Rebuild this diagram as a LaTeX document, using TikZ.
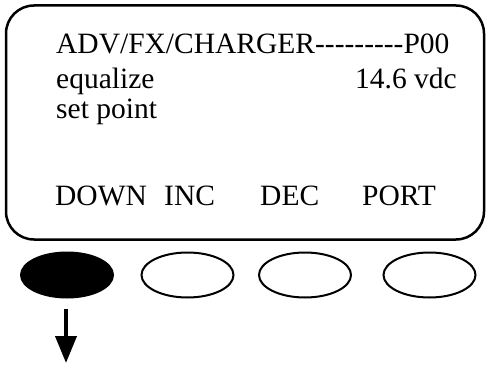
\documentclass[tikz,border=0pt]{standalone}
\usepackage{fontspec}
\setmainfont{Liberation Serif}
\usetikzlibrary{shapes.geometric,arrows.meta}
\begin{document}
\begin{tikzpicture}[x=1pt,y=-1pt,
  lcd/.style={draw, line width=2.5pt, rounded corners=28pt, minimum width=478pt, minimum height=234pt, inner sep=0pt},
  txt/.style={anchor=base west, inner sep=0pt, font=\fontsize{29.5}{32}\selectfont},
  txtr/.style={anchor=base east, inner sep=0pt, font=\fontsize{29.5}{32}\selectfont},
  btn/.style={ellipse, draw, line width=2pt, minimum width=92pt, minimum height=45pt, inner sep=0pt},
  btnon/.style={btn, fill=black},
  downarrow/.style={line width=4pt, -{Triangle[width=21pt,length=27pt]}}]
\useasboundingbox (0,0) rectangle (488,369);
\node[lcd] (lcd) at (245,122.5) {};
\node[txt] (l1) at (56,54) {ADV/FX/CHARGER-{}-{}-{}-{}-{}-{}-{}-{}-P00};
\node[txt] (l2) at (56,89) {equalize};
\node[txtr] (v2) at (457,89) {14.6 vdc};
\node[txt] (l3) at (56,118) {set point};
\node[txt] (k1) at (55,205) {DOWN};
\node[txt] (k2) at (164,205) {INC};
\node[txt] (k3) at (260,205) {DEC};
\node[txt] (k4) at (362,205) {PORT};
\node[btnon] (b1) at (67,275) {};
\node[btn] (b2) at (187.5,275) {};
\node[btn] (b3) at (305,275) {};
\node[btn] (b4) at (429.5,275) {};
\coordinate (aend) at (66,363);
\draw[downarrow] ([yshift=-10pt]b1.south -| aend) -- (aend);
\end{tikzpicture}
\end{document}
